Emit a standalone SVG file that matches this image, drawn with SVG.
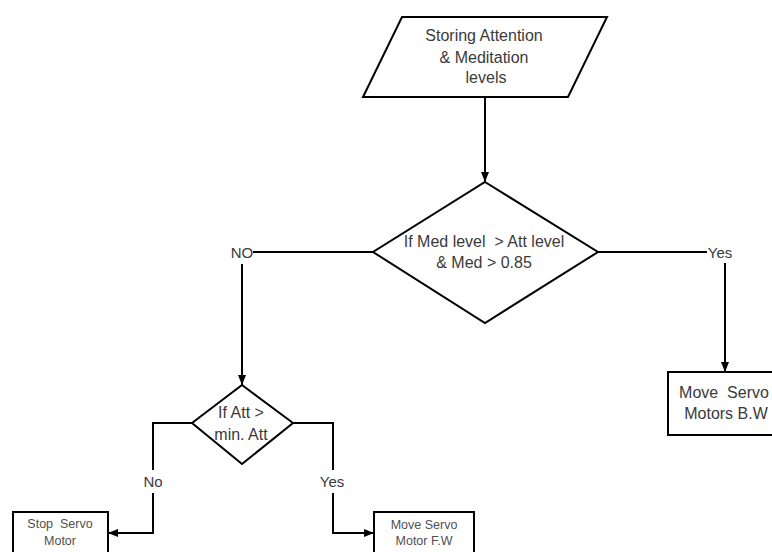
<svg xmlns="http://www.w3.org/2000/svg" width="772" height="552" viewBox="0 0 772 552">
<style>
.shape{fill:#fff;stroke:#000;stroke-width:2}
.line{fill:none;stroke:#000;stroke-width:2}
text{font-family:"Liberation Sans",Arial,sans-serif;fill:#3a3a3a;text-anchor:middle}
.t16{font-size:16px}
.t15{font-size:15px}
.t12{font-size:12.5px;fill:#505050}
</style>
<defs>
<marker id="arrow" markerUnits="userSpaceOnUse" markerWidth="10" markerHeight="10" viewBox="0 0 10 10" refX="10" refY="5" orient="auto">
<path d="M0,1 L10,5 L0,9 Z" fill="#000"/>
</marker>
</defs>
<rect width="772" height="552" fill="#fff"/>
<g id="connectors">
<path class="line" d="M485,97 V182" marker-end="url(#arrow)"/>
<path class="line" d="M373,252 H253"/>
<path class="line" d="M242,264 V385" marker-end="url(#arrow)"/>
<path class="line" d="M598,252 H707"/>
<path class="line" d="M725,263 V372" marker-end="url(#arrow)"/>
<path class="line" d="M192,423 H153 V470"/>
<path class="line" d="M153,493 V533 H108" marker-end="url(#arrow)"/>
<path class="line" d="M293,423 H333 V470"/>
<path class="line" d="M333,493 V533 H374" marker-end="url(#arrow)"/>
<text class="t15" x="242" y="258">NO</text>
<text class="t15" x="720" y="258">Yes</text>
<text class="t15" x="153" y="487">No</text>
<text class="t15" x="332" y="487">Yes</text>
</g>
<g id="store">
<polygon class="shape" points="402,17 607,17 568,97 363,97"/>
<text class="t16" x="484" y="41">Storing Attention</text>
<text class="t16" x="484" y="63">&amp; Meditation</text>
<text class="t16" x="486" y="83">levels</text>
</g>
<g id="decision1">
<polygon class="shape" points="485,182 598,252 485,323 373,252"/>
<text class="t16" x="484" y="247" xml:space="preserve">If Med level  &gt; Att level</text>
<text class="t16" x="484" y="268">&amp; Med &gt; 0.85</text>
</g>
<g id="moveBW">
<rect class="shape" x="668" y="372" width="114" height="63"/>
<text class="t16" x="724" y="398" xml:space="preserve">Move  Servo</text>
<text class="t16" x="726" y="419">Motors B.W</text>
</g>
<g id="decision2">
<polygon class="shape" points="242,385 293,423 242,464 192,423"/>
<text class="t16" x="241" y="418">If Att &gt;</text>
<text class="t16" x="241" y="440">min. Att</text>
</g>
<g id="stop">
<rect class="shape" x="13" y="512" width="95" height="50"/>
<text class="t12" x="60" y="528" xml:space="preserve">Stop  Servo</text>
<text class="t12" x="60" y="545">Motor</text>
</g>
<g id="moveFW">
<rect class="shape" x="374" y="512" width="100" height="50"/>
<text class="t12" x="424" y="529">Move Servo</text>
<text class="t12" x="424" y="545">Motor F.W</text>
</g>
</svg>
